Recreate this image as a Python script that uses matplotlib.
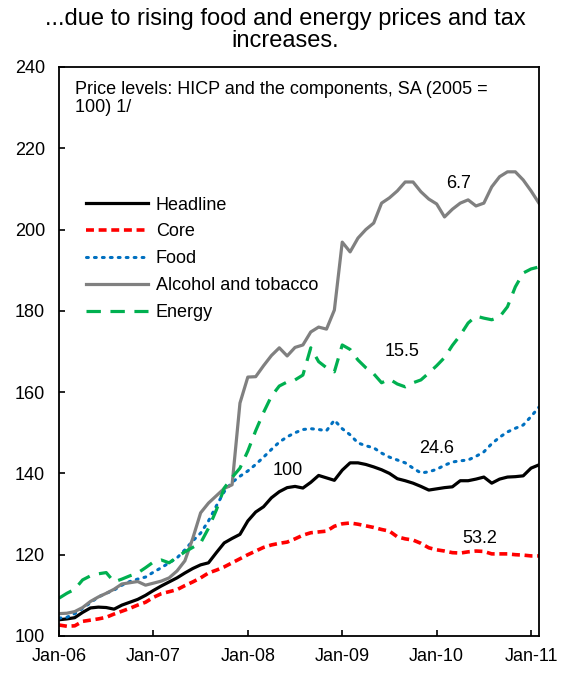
import matplotlib
matplotlib.use('Agg')
import matplotlib.pyplot as plt
import numpy as np

plt.rcParams['font.family'] = ['Liberation Sans', 'DejaVu Sans']

# Monthly data, Jan-06 .. Feb-11 (2005 = 100)
months = np.arange(62)
tick_pos = [0, 12, 24, 36, 48, 60]
tick_labels = ['Jan-06', 'Jan-07', 'Jan-08', 'Jan-09', 'Jan-10', 'Jan-11']

headline = [104.0, 104.2, 104.5, 105.8, 106.9, 107.1, 107.0, 106.6, 107.6, 108.3,
            109.0, 110.0, 111.2, 112.3, 113.3, 114.3, 115.5, 116.6, 117.5, 118.0,
            120.5, 122.9, 124.0, 125.0, 128.3, 130.5, 131.8, 134.0, 135.5, 136.5,
            136.8, 136.4, 137.8, 139.5, 138.9, 138.3, 140.8, 142.6, 142.6, 142.2,
            141.6, 140.9, 140.0, 138.7, 138.2, 137.6, 136.8, 135.9, 136.2, 136.5,
            136.7, 138.2, 138.2, 138.6, 139.1, 137.6, 138.6, 139.1, 139.2, 139.4,
            141.3, 142.1]
core = [102.7, 102.4, 102.5, 103.6, 103.9, 104.2, 104.6, 105.4, 106.1, 106.8,
        107.6, 108.3, 109.5, 110.4, 110.9, 111.4, 112.4, 113.3, 114.3, 115.5,
        116.2, 117.0, 118.0, 119.0, 120.0, 120.9, 121.8, 122.4, 122.8, 123.1,
        123.9, 124.8, 125.4, 125.6, 125.8, 127.0, 127.6, 127.8, 127.5, 127.1,
        126.7, 126.2, 125.8, 124.4, 123.9, 123.6, 122.8, 121.7, 121.2, 120.9,
        120.5, 120.4, 120.7, 120.9, 120.8, 120.2, 120.2, 120.2, 120.0, 119.9,
        119.7, 119.7]
food = [104.4, 104.6, 105.5, 106.8, 108.2, 109.6, 110.5, 111.3, 112.5, 113.4,
        114.0, 114.5, 115.7, 116.8, 118.0, 119.2, 121.2, 123.4, 125.3, 128.3,
        132.0, 135.5, 137.8, 139.3, 140.6, 142.2, 144.0, 145.9, 147.7, 149.0,
        150.0, 150.8, 151.0, 150.8, 150.5, 153.1, 151.0, 149.5, 147.5, 146.8,
        146.3, 145.0, 144.0, 143.3, 142.6, 141.3, 140.1, 140.4, 141.0, 142.0,
        142.8, 143.1, 143.3, 144.2, 145.3, 147.3, 148.9, 150.2, 151.1, 151.9,
        154.0, 156.3]
alcohol = [105.5, 105.6, 106.0, 107.0, 108.5, 109.6, 110.5, 111.5, 112.8, 113.1,
           113.4, 112.5, 113.0, 113.5, 114.3, 116.0, 118.5, 124.0, 130.3, 132.7,
           134.5, 136.3, 137.2, 157.3, 163.7, 163.8, 166.5, 169.0, 170.9, 168.9,
           171.0, 171.6, 174.8, 176.0, 175.5, 180.2, 196.9, 194.5, 197.9, 200.0,
           201.6, 206.5, 207.8, 209.5, 211.7, 211.7, 209.3, 207.5, 206.3, 203.1,
           205.0, 206.5, 207.3, 205.8, 206.5, 210.5, 213.0, 214.2, 214.2, 212.2,
           209.5, 206.5]
energy = [109.3, 110.5, 111.5, 113.8, 114.8, 115.3, 115.6, 113.3, 114.0, 114.8,
          115.5, 116.8, 118.2, 118.7, 118.0, 119.4, 120.7, 121.8, 122.9, 126.5,
          131.0, 136.4, 139.0, 141.3, 145.5, 150.5, 155.0, 159.0, 161.5, 162.5,
          163.0, 164.2, 170.9, 167.5, 166.0, 165.0, 171.6, 170.5, 167.9, 166.0,
          164.5, 162.3, 163.2, 162.0, 161.3, 162.3, 163.0, 164.7, 166.5, 168.5,
          171.5, 174.0, 177.0, 178.7, 178.2, 177.8, 178.5, 181.0, 185.9, 189.3,
          190.3, 190.8]

fig = plt.figure(figsize=(5.7, 6.73), dpi=100)
ax = fig.add_axes([0.1035, 0.055, 0.842, 0.8455])

ax.plot(months, headline, color='black', lw=2.3, label='Headline')
ax.plot(months, core, color='#FF0000', lw=2.6, dashes=(2.2, 1.3), label='Core')
ax.plot(months, food, color='#0070C0', lw=2.2, linestyle=(0, (0.6, 2.0)),
        dash_capstyle='round', label='Food')
ax.plot(months, alcohol, color='#808080', lw=2.3, label='Alcohol and tobacco')
ax.plot(months, energy, color='#00B050', lw=2.3, dashes=(4.5, 3.0), label='Energy')

ax.set_xlim(0, 61)
ax.set_ylim(100, 240)
ax.set_yticks(np.arange(100, 241, 20))
ax.set_xticks(tick_pos)
ax.set_xticklabels(tick_labels)
ax.tick_params(direction='in', length=4, width=1.2, labelsize=13)
ax.tick_params(axis='y', pad=10)
ax.tick_params(axis='x', pad=9)
for s in ax.spines.values():
    s.set_linewidth(1.3)

fig.suptitle('...due to rising food and energy prices and tax\nincreases.',
             x=0.5, y=0.988, fontsize=17, linespacing=0.98, va='top')

ax.text(0.033, 0.975, 'Price levels: HICP and the components, SA (2005 =\n100) 1/',
        transform=ax.transAxes, fontsize=13, va='top', ha='left', linespacing=1.1)

leg = ax.legend(loc='upper left', bbox_to_anchor=(0.042, 0.785), frameon=False,
                fontsize=13, handlelength=3.4, handletextpad=0.45, labelspacing=0.55,
                borderaxespad=0)

labels = [('6.7', 50.8, 211.3), ('15.5', 43.6, 169.9), ('24.6', 48.0, 146.2),
          ('53.2', 53.5, 123.9), ('100', 29.1, 140.6)]
for txt, xx, yy in labels:
    ax.text(xx, yy, txt, fontsize=13, ha='center', va='center')

fig.savefig('out.png', dpi=100)
